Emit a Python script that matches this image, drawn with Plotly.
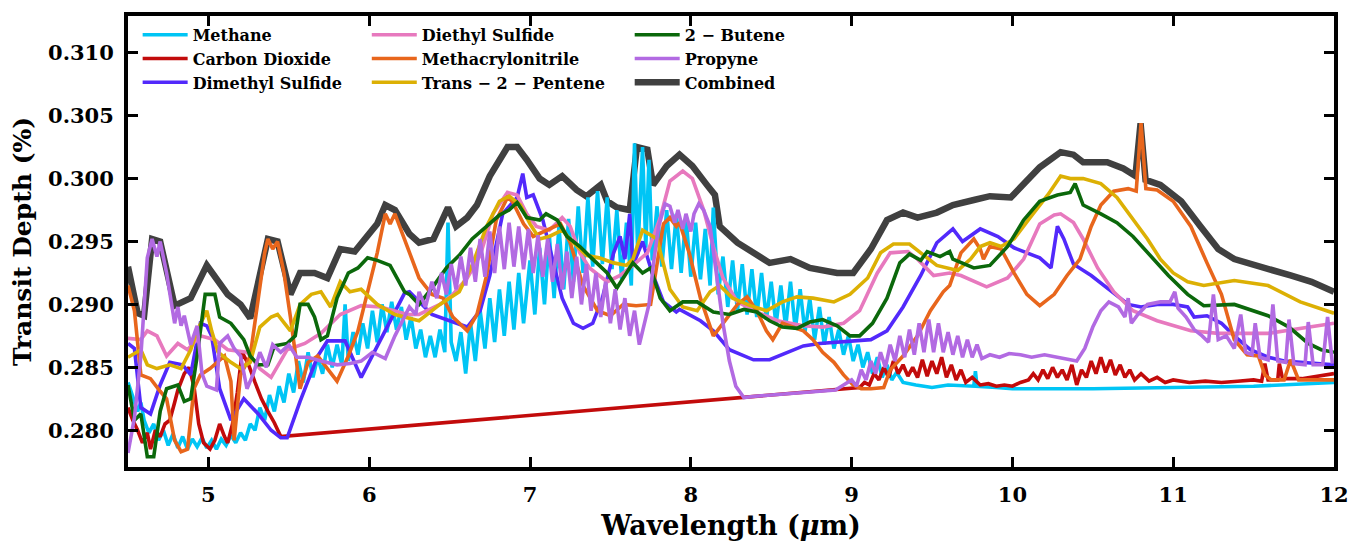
import plotly.graph_objects as go

# ---------------- data (wavelength in micron, transit depth in %) ----------------
combined_wl = [4.50, 4.56, 4.60, 4.65, 4.70, 4.79, 4.89, 4.99, 5.12, 5.20, 5.26, 5.37, 5.43, 5.51, 5.57,
               5.66, 5.74, 5.82, 5.91, 5.99, 6.05, 6.10, 6.16, 6.25, 6.31, 6.40, 6.49, 6.54, 6.61, 6.67,
               6.75, 6.86, 6.92, 6.98, 7.06, 7.12, 7.20, 7.29, 7.35, 7.44, 7.48, 7.54, 7.62, 7.665, 7.73,
               7.765, 7.85, 7.93, 8.01, 8.10, 8.15, 8.18, 8.29, 8.39, 8.49, 8.62, 8.74, 8.91, 9.01, 9.12,
               9.22, 9.32, 9.41, 9.53, 9.63, 9.76, 9.86, 9.99, 10.09, 10.17, 10.30, 10.38, 10.44, 10.59,
               10.69, 10.765, 10.797, 10.828, 10.92, 11.05, 11.17, 11.28, 11.38, 11.59, 11.73, 11.86, 12.00]
combined_td = [0.2930, 0.2893, 0.2891, 0.2952, 0.2950, 0.2899, 0.2905, 0.2931, 0.2908, 0.2900, 0.2889, 0.2952,
               0.2950, 0.2908, 0.2925, 0.2925, 0.2921, 0.2944, 0.2942, 0.2954, 0.2964, 0.2979, 0.2975, 0.2956,
               0.2949, 0.2952, 0.2977, 0.2962, 0.2969, 0.2979, 0.3002, 0.3025, 0.3025, 0.3015, 0.3000, 0.2995,
               0.3002, 0.2991, 0.2986, 0.2995, 0.2982, 0.2977, 0.2975, 0.3025, 0.3023, 0.2995, 0.3010, 0.3019,
               0.3010, 0.2995, 0.2987, 0.2962, 0.2949, 0.2941, 0.2933, 0.2936, 0.2929, 0.2925, 0.2925, 0.2944,
               0.2967, 0.2973, 0.2969, 0.2973, 0.2979, 0.2983, 0.2986, 0.2985, 0.2998, 0.3009, 0.3021, 0.3019,
               0.3013, 0.3013, 0.3008, 0.3002, 0.3044, 0.2999, 0.2995, 0.2982, 0.2962, 0.2944, 0.2936, 0.2929,
               0.2923, 0.2918, 0.2910]

methane_wl = [4.50, 4.53, 4.56, 4.58, 4.60, 4.63, 4.66, 4.69, 4.72, 4.75, 4.78, 4.81, 4.84, 4.87, 4.90,
              4.93, 4.96, 4.99, 5.02, 5.05, 5.08, 5.11, 5.14, 5.17, 5.20, 5.23, 5.26, 5.29, 5.32, 5.35,
              5.38, 5.41, 5.44, 5.47, 5.50, 5.53, 5.56, 5.59, 5.62, 5.65, 5.68, 5.71, 5.74, 5.77, 5.80,
              5.83, 5.85, 5.87, 5.90, 5.93, 5.96, 5.99, 6.02, 6.05, 6.08, 6.11, 6.14, 6.17, 6.20, 6.23,
              6.26, 6.29, 6.32, 6.35, 6.38, 6.41, 6.44, 6.47, 6.49, 6.51, 6.54, 6.57, 6.60, 6.63, 6.66,
              6.69, 6.72, 6.75, 6.78, 6.81, 6.84, 6.87, 6.90, 6.93, 6.96, 7.00, 7.03, 7.06, 7.09, 7.12,
              7.15, 7.18, 7.21, 7.24, 7.27, 7.30, 7.33, 7.36, 7.39, 7.42, 7.45, 7.48, 7.51, 7.54, 7.57,
              7.60, 7.63, 7.65, 7.67, 7.70, 7.72, 7.74, 7.76, 7.79, 7.82, 7.85, 7.88, 7.91, 7.94, 7.97,
              8.00, 8.03, 8.06, 8.09, 8.12, 8.14, 8.17, 8.20, 8.23, 8.26, 8.29, 8.32, 8.35, 8.38, 8.41,
              8.44, 8.47, 8.50, 8.53, 8.56, 8.59, 8.62, 8.65, 8.68, 8.71, 8.74, 8.77, 8.80, 8.83, 8.86,
              8.89, 8.92, 8.95, 8.98, 9.01, 9.04, 9.07, 9.10, 9.13, 9.16, 9.19, 9.22, 9.25, 9.28, 9.32,
              9.40, 9.50, 9.60, 9.70, 9.76, 9.77, 9.78, 9.90, 10.00, 10.50, 11.00, 11.50, 12.00]
methane_td = [0.2838, 0.2826, 0.2815, 0.2822, 0.2808, 0.2798, 0.2805, 0.2792, 0.2800, 0.2788, 0.2797, 0.2786,
              0.2795, 0.2785, 0.2793, 0.2787, 0.2794, 0.2786, 0.2792, 0.2785, 0.2793, 0.2788, 0.2796, 0.2790,
              0.2798, 0.2792, 0.2805, 0.2800, 0.2818, 0.2808, 0.2828, 0.2815, 0.2835, 0.2822, 0.2845, 0.2830,
              0.2855, 0.2838, 0.2862, 0.2842, 0.2858, 0.2845, 0.2868, 0.2850, 0.2868, 0.2852, 0.2900, 0.2855,
              0.2878, 0.2860, 0.2885, 0.2865, 0.2895, 0.2870, 0.2900, 0.2878, 0.2902, 0.2880, 0.2898, 0.2872,
              0.2890, 0.2865, 0.2880, 0.2858, 0.2875, 0.2858, 0.2880, 0.2862, 0.2965, 0.2870, 0.2855, 0.2878,
              0.2845, 0.2885, 0.2855, 0.2895, 0.2865, 0.2905, 0.2870, 0.2912, 0.2875, 0.2918, 0.2880, 0.2925,
              0.2885, 0.2935, 0.2892, 0.2945, 0.2900, 0.2955, 0.2905, 0.2962, 0.2912, 0.2968, 0.2918, 0.2978,
              0.2925, 0.2985, 0.2930, 0.2990, 0.2932, 0.2985, 0.2928, 0.2975, 0.2920, 0.2965, 0.2915, 0.3028,
              0.2940, 0.3025, 0.2945, 0.3015, 0.2935, 0.2978, 0.2930, 0.2975, 0.2928, 0.2972, 0.2925, 0.2970,
              0.2922, 0.2965, 0.2920, 0.2960, 0.2915, 0.2977, 0.2908, 0.2938, 0.2898, 0.2935, 0.2895, 0.2932,
              0.2892, 0.2928, 0.2890, 0.2925, 0.2888, 0.2918, 0.2884, 0.2915, 0.2882, 0.2918, 0.2880, 0.2912,
              0.2878, 0.2905, 0.2872, 0.2898, 0.2868, 0.2890, 0.2865, 0.2880, 0.2860, 0.2875, 0.2855, 0.2868,
              0.2850, 0.2862, 0.2845, 0.2858, 0.2842, 0.2852, 0.2840, 0.2846, 0.2838, 0.2836, 0.2834, 0.2836,
              0.2835, 0.2835, 0.2847, 0.2835, 0.2834, 0.2833, 0.2833, 0.2834, 0.2835, 0.2838]

co2_wl = [4.50, 4.53, 4.56, 4.59, 4.62, 4.64, 4.67, 4.70, 4.73, 4.76, 4.79, 4.81, 4.85, 4.88, 4.91, 4.94,
          4.97, 5.01, 5.04, 5.07, 5.10, 5.12, 5.15, 5.18, 5.21, 5.25, 5.29, 5.33, 5.37, 5.41, 5.45,
          9.05, 9.08, 9.11, 9.14, 9.17, 9.20, 9.23, 9.26, 9.29, 9.32, 9.35, 9.38, 9.41, 9.44, 9.47, 9.50,
          9.53, 9.56, 9.59, 9.62, 9.65, 9.68, 9.71, 9.75, 9.80, 9.85, 9.90, 9.95, 10.00, 10.05, 10.10,
          10.13, 10.16, 10.19, 10.22, 10.25, 10.28, 10.31, 10.34, 10.37, 10.40, 10.43, 10.46, 10.49,
          10.52, 10.55, 10.58, 10.61, 10.64, 10.67, 10.70, 10.73, 10.76, 10.80, 10.85, 10.90, 10.95,
          11.00, 11.10, 11.20, 11.30, 11.40, 11.50, 11.55, 11.57, 11.59, 11.65, 11.66, 11.68, 11.80,
          11.90, 12.00]
co2_td = [0.2818, 0.2808, 0.2800, 0.2790, 0.2798, 0.2785, 0.2800, 0.2795, 0.2805, 0.2808, 0.2822, 0.2832,
          0.2845, 0.2850, 0.2835, 0.2805, 0.2790, 0.2785, 0.2792, 0.2805, 0.2795, 0.2790, 0.2805, 0.2830,
          0.2862, 0.2852, 0.2838, 0.2825, 0.2815, 0.2806, 0.2795,
          0.2834, 0.2838, 0.2836, 0.2845, 0.2840, 0.2850, 0.2842, 0.2855, 0.2845, 0.2852, 0.2843, 0.2850,
          0.2842, 0.2856, 0.2843, 0.2855, 0.2845, 0.2858, 0.2842, 0.2852, 0.2840, 0.2848, 0.2838, 0.2842,
          0.2836, 0.2837, 0.2835, 0.2836, 0.2835, 0.2838, 0.2840, 0.2845, 0.2840, 0.2848, 0.2841, 0.2850,
          0.2842, 0.2848, 0.2840, 0.2852, 0.2836, 0.2848, 0.2842, 0.2855, 0.2845, 0.2858, 0.2846, 0.2856,
          0.2844, 0.2852, 0.2842, 0.2848, 0.2840, 0.2845, 0.2839, 0.2842, 0.2838, 0.2840, 0.2838, 0.2839,
          0.2838, 0.2839, 0.2840, 0.2839, 0.2853, 0.2840, 0.2840, 0.2853, 0.2841, 0.2841, 0.2843, 0.2845]

dms_wl = [4.50, 4.54, 4.58, 4.64, 4.70, 4.76, 4.84, 4.89, 4.95, 4.99, 5.02, 5.07, 5.14, 5.22, 5.31, 5.39,
          5.45, 5.49, 5.57, 5.68, 5.74, 5.85, 5.95, 6.07, 6.22, 6.25, 6.31, 6.39, 6.50, 6.61, 6.69, 6.75,
          6.83, 6.92, 6.955, 6.98, 7.02, 7.08, 7.14, 7.20, 7.27, 7.33, 7.39, 7.45, 7.52, 7.56, 7.59, 7.62,
          7.64, 7.70, 7.76, 7.83, 7.91, 7.93, 8.06, 8.14, 8.24, 8.39, 8.49, 8.60, 8.70, 8.80, 9.01, 9.12,
          9.22, 9.32, 9.43, 9.53, 9.63, 9.69, 9.80, 9.91, 10.01, 10.17, 10.24, 10.28, 10.32, 10.38, 10.49,
          10.59, 10.72, 10.80, 10.90, 11.00, 11.09, 11.13, 11.21, 11.30, 11.38, 11.48, 11.59, 11.69, 11.79,
          12.00]
dms_td = [0.2869, 0.2865, 0.2818, 0.2813, 0.2836, 0.2854, 0.2852, 0.2844, 0.2885, 0.2883, 0.2875, 0.2833,
          0.2808, 0.2825, 0.2813, 0.2800, 0.2794, 0.2794, 0.2823, 0.2859, 0.2871, 0.2871, 0.2842, 0.2872,
          0.2909, 0.2910, 0.2902, 0.2892, 0.2887, 0.2882, 0.2895, 0.2923, 0.2972, 0.2985, 0.3004, 0.2985,
          0.2987, 0.2967, 0.2936, 0.2905, 0.2885, 0.2881, 0.2885, 0.2905, 0.2941, 0.2954, 0.2936, 0.2972,
          0.2931, 0.2950, 0.2925, 0.2902, 0.2894, 0.2896, 0.2887, 0.2879, 0.2864, 0.2856, 0.2856, 0.2862,
          0.2867, 0.2869, 0.2871, 0.2872, 0.2879, 0.2898, 0.2923, 0.2949, 0.2960, 0.2950, 0.2960, 0.2954,
          0.2945, 0.2937, 0.2929, 0.2962, 0.2952, 0.2932, 0.2923, 0.2913, 0.2900, 0.2898, 0.2900, 0.2900,
          0.2898, 0.2890, 0.2891, 0.2885, 0.2875, 0.2864, 0.2858, 0.2855, 0.2854, 0.2852]

diethyl_wl = [4.50, 4.58, 4.62, 4.68, 4.74, 4.81, 4.87, 4.95, 5.04, 5.12, 5.24, 5.32, 5.39, 5.49, 5.60,
              5.70, 5.82, 5.95, 6.07, 6.16, 6.24, 6.31, 6.44, 6.52, 6.61, 6.69, 6.77, 6.86, 6.92, 6.98,
              7.04, 7.12, 7.20, 7.25, 7.31, 7.37, 7.48, 7.56, 7.64, 7.73, 7.81, 7.87, 7.95, 8.01, 8.08,
              8.14, 8.20, 8.29, 8.41, 8.54, 8.70, 8.82, 8.95, 9.05, 9.16, 9.24, 9.35, 9.41, 9.51, 9.61,
              9.68, 9.84, 9.97, 10.07, 10.17, 10.26, 10.30, 10.38, 10.44, 10.53, 10.63, 10.75, 10.90,
              11.11, 11.28, 11.59, 11.80, 12.00]
diethyl_td = [0.2873, 0.2872, 0.2879, 0.2875, 0.2859, 0.2869, 0.2864, 0.2875, 0.2872, 0.2864, 0.2862,
              0.2849, 0.2842, 0.2864, 0.2869, 0.2877, 0.2892, 0.2899, 0.2898, 0.2895, 0.2892, 0.2892,
              0.2900, 0.2908, 0.2921, 0.2939, 0.2972, 0.2989, 0.2987, 0.2972, 0.2962, 0.2959, 0.2969,
              0.2962, 0.2941, 0.2929, 0.2918, 0.2923, 0.2931, 0.2941, 0.2969, 0.2998, 0.3006, 0.3000,
              0.2975, 0.2946, 0.2921, 0.2902, 0.2894, 0.2887, 0.2883, 0.2882, 0.2885, 0.2895, 0.2925,
              0.2941, 0.2942, 0.2936, 0.2923, 0.2925, 0.2923, 0.2914, 0.2921, 0.2936, 0.2964, 0.2971,
              0.2972, 0.2965, 0.2952, 0.2929, 0.2910, 0.2895, 0.2887, 0.2879, 0.2877, 0.2877, 0.2881,
              0.2885]

methacrylo_wl = [4.50, 4.54, 4.58, 4.64, 4.70, 4.74, 4.79, 4.83, 4.87, 4.91, 4.95, 5.01, 5.10, 5.14, 5.16,
                 5.20, 5.26, 5.31, 5.35, 5.37, 5.40, 5.43, 5.47, 5.51, 5.55, 5.57, 5.62, 5.68, 5.74, 5.80,
                 5.87, 5.93, 5.99, 6.05, 6.10, 6.13, 6.16, 6.22, 6.25, 6.31, 6.39, 6.46, 6.52, 6.61, 6.67,
                 6.73, 6.79, 6.86, 6.89, 6.96, 7.02, 7.10, 7.19, 7.25, 7.33, 7.42, 7.50, 7.58, 7.66, 7.75,
                 7.83, 7.87, 7.91, 7.93, 7.99, 8.06, 8.14, 8.20, 8.29, 8.35, 8.41, 8.47, 8.51, 8.57, 8.64,
                 8.70, 8.76, 8.82, 8.89, 8.95, 9.01, 9.06, 9.12, 9.20, 9.24, 9.32, 9.41, 9.49, 9.57, 9.61,
                 9.68, 9.76, 9.80, 9.82, 9.86, 9.93, 10.01, 10.09, 10.17, 10.26, 10.34, 10.42, 10.49, 10.55,
                 10.63, 10.72, 10.77, 10.80, 10.83, 10.90, 11.00, 11.11, 11.21, 11.30, 11.38, 11.46, 11.53,
                 11.57, 11.61, 11.69, 11.73, 11.78, 12.00]
methacrylo_td = [0.2915, 0.2895, 0.2844, 0.2841, 0.2831, 0.2825, 0.2792, 0.2783, 0.2785, 0.2833, 0.2844,
                 0.2849, 0.2859, 0.2839, 0.2792, 0.2844, 0.2859, 0.2902, 0.2941, 0.2952, 0.2944, 0.2950,
                 0.2925, 0.2890, 0.2854, 0.2833, 0.2854, 0.2859, 0.2849, 0.2839, 0.2859, 0.2879, 0.2910,
                 0.2941, 0.2972, 0.2964, 0.2972, 0.2952, 0.2941, 0.2921, 0.2908, 0.2905, 0.2890, 0.2879,
                 0.2892, 0.2923, 0.2967, 0.2985, 0.2982, 0.2964, 0.2954, 0.2959, 0.2964, 0.2949, 0.2915,
                 0.2895, 0.2891, 0.2900, 0.2899, 0.2900, 0.2964, 0.2969, 0.2962, 0.2965, 0.2941, 0.2905,
                 0.2875, 0.2885, 0.2900, 0.2906, 0.2895, 0.2879, 0.2872, 0.2885, 0.2882, 0.2879, 0.2872,
                 0.2862, 0.2854, 0.2844, 0.2836, 0.2833, 0.2833, 0.2834, 0.2848, 0.2859, 0.2875, 0.2895,
                 0.2910, 0.2915, 0.2941, 0.2952, 0.2944, 0.2936, 0.2946, 0.2944, 0.2925, 0.2908, 0.2899,
                 0.2908, 0.2923, 0.2936, 0.2962, 0.2979, 0.2990, 0.2992, 0.2990, 0.3044, 0.2992, 0.2991,
                 0.2982, 0.2962, 0.2933, 0.2908, 0.2872, 0.2860, 0.2859, 0.2844, 0.2840, 0.2840, 0.2856,
                 0.2840, 0.2840]

pentene_wl = [4.50, 4.58, 4.62, 4.68, 4.76, 4.83, 4.89, 4.93, 4.99, 5.02, 5.06, 5.14, 5.20, 5.26, 5.32,
              5.39, 5.43, 5.51, 5.57, 5.64, 5.70, 5.76, 5.82, 5.88, 5.95, 6.05, 6.16, 6.24, 6.31, 6.44,
              6.56, 6.64, 6.73, 6.81, 6.87, 6.94, 7.00, 7.06, 7.12, 7.20, 7.27, 7.35, 7.43, 7.52, 7.60,
              7.64, 7.70, 7.79, 7.87, 7.95, 8.04, 8.12, 8.18, 8.26, 8.37, 8.47, 8.57, 8.66, 8.76, 8.89,
              8.99, 9.10, 9.18, 9.26, 9.36, 9.45, 9.53, 9.66, 9.74, 9.80, 9.86, 9.93, 10.01, 10.11, 10.22,
              10.30, 10.36, 10.44, 10.55, 10.65, 10.75, 10.84, 10.92, 11.00, 11.09, 11.19, 11.38, 11.59,
              11.79, 12.00]
pentene_td = [0.2858, 0.2864, 0.2852, 0.2849, 0.2852, 0.2849, 0.2864, 0.2879, 0.2895, 0.2879, 0.2862,
              0.2854, 0.2849, 0.2854, 0.2882, 0.2890, 0.2892, 0.2879, 0.2900, 0.2908, 0.2910, 0.2898,
              0.2918, 0.2910, 0.2912, 0.2900, 0.2892, 0.2889, 0.2887, 0.2900, 0.2910, 0.2931, 0.2962,
              0.2982, 0.2986, 0.2979, 0.2964, 0.2952, 0.2954, 0.2959, 0.2949, 0.2939, 0.2937, 0.2933,
              0.2931, 0.2936, 0.2959, 0.2952, 0.2912, 0.2898, 0.2895, 0.2910, 0.2915, 0.2905, 0.2899,
              0.2895, 0.2902, 0.2906, 0.2905, 0.2902, 0.2908, 0.2921, 0.2941, 0.2948, 0.2948, 0.2939,
              0.2931, 0.2927, 0.2936, 0.2946, 0.2949, 0.2946, 0.2952, 0.2969, 0.2987, 0.3002, 0.3000,
              0.3000, 0.2996, 0.2985, 0.2967, 0.2952, 0.2936, 0.2925, 0.2918, 0.2915, 0.2919, 0.2915,
              0.2902, 0.2893]

butene_wl = [4.50, 4.54, 4.58, 4.62, 4.66, 4.70, 4.74, 4.81, 4.85, 4.89, 4.93, 4.98, 5.04, 5.07, 5.14,
             5.18, 5.22, 5.26, 5.31, 5.37, 5.41, 5.49, 5.54, 5.57, 5.62, 5.66, 5.70, 5.74, 5.80, 5.87,
             5.93, 5.99, 6.05, 6.13, 6.22, 6.25, 6.31, 6.39, 6.48, 6.56, 6.64, 6.73, 6.81, 6.87, 6.92,
             6.98, 7.06, 7.10, 7.17, 7.23, 7.31, 7.39, 7.48, 7.54, 7.60, 7.64, 7.70, 7.75, 7.81, 7.87,
             7.95, 8.04, 8.14, 8.24, 8.33, 8.41, 8.49, 8.57, 8.66, 8.74, 8.82, 8.91, 8.99, 9.05, 9.13,
             9.22, 9.30, 9.36, 9.43, 9.47, 9.55, 9.61, 9.63, 9.76, 9.86, 9.97, 10.07, 10.17, 10.28, 10.36,
             10.39, 10.44, 10.55, 10.65, 10.75, 10.86, 10.97, 11.09, 11.19, 11.38, 11.59, 11.72, 11.84,
             11.92, 12.00]
butene_td = [0.2836, 0.2808, 0.2813, 0.2779, 0.2779, 0.2815, 0.2833, 0.2836, 0.2823, 0.2825, 0.2859,
             0.2908, 0.2908, 0.2890, 0.2885, 0.2879, 0.2872, 0.2859, 0.2852, 0.2852, 0.2867, 0.2869,
             0.2875, 0.2900, 0.2900, 0.2890, 0.2872, 0.2875, 0.2905, 0.2925, 0.2929, 0.2937, 0.2935,
             0.2931, 0.2910, 0.2908, 0.2900, 0.2913, 0.2929, 0.2939, 0.2952, 0.2962, 0.2971, 0.2975,
             0.2981, 0.2969, 0.2967, 0.2972, 0.2967, 0.2954, 0.2946, 0.2936, 0.2925, 0.2913, 0.2925,
             0.2933, 0.2925, 0.2929, 0.2905, 0.2895, 0.2902, 0.2902, 0.2894, 0.2892, 0.2896, 0.2894,
             0.2887, 0.2882, 0.2881, 0.2886, 0.2888, 0.2883, 0.2875, 0.2875, 0.2885, 0.2905, 0.2933,
             0.2940, 0.2935, 0.2942, 0.2938, 0.2942, 0.2936, 0.2929, 0.2931, 0.2946, 0.2967, 0.2982,
             0.2987, 0.2989, 0.2996, 0.2979, 0.2972, 0.2965, 0.2954, 0.2939, 0.2923, 0.2908, 0.2899,
             0.2900, 0.2891, 0.2882, 0.2869, 0.2864, 0.2862]

propyne_wl = [4.50, 4.54, 4.58, 4.62, 4.65, 4.68, 4.70, 4.74, 4.79, 4.81, 4.83, 4.85, 4.89, 4.93, 4.96,
              4.99, 5.05, 5.07, 5.12, 5.16, 5.20, 5.24, 5.28, 5.32, 5.36, 5.40, 5.45, 5.50, 5.55, 5.62,
              5.70, 5.80, 5.88, 5.95, 6.02, 6.10, 6.16, 6.22, 6.25, 6.29, 6.31, 6.35, 6.39, 6.42, 6.45,
              6.48, 6.51, 6.54, 6.57, 6.60, 6.63, 6.66, 6.69, 6.72, 6.75, 6.78, 6.81, 6.84, 6.87, 6.90,
              6.93, 6.96, 6.99, 7.02, 7.05, 7.08, 7.11, 7.14, 7.17, 7.20, 7.23, 7.26, 7.29, 7.32, 7.35,
              7.38, 7.41, 7.44, 7.47, 7.50, 7.53, 7.56, 7.59, 7.62, 7.65, 7.68, 7.71, 7.74, 7.77, 7.80,
              7.84, 7.87, 7.90, 7.92, 7.95, 7.97, 8.00, 8.02, 8.05, 8.08, 8.12, 8.16, 8.20, 8.24, 8.28,
              8.33, 8.40, 8.60, 8.80, 8.90, 8.95, 9.00, 9.03, 9.06, 9.09, 9.12, 9.15, 9.18, 9.21, 9.24,
              9.27, 9.30, 9.33, 9.36, 9.39, 9.42, 9.45, 9.48, 9.51, 9.54, 9.57, 9.60, 9.63, 9.66, 9.69,
              9.72, 9.75, 9.78, 9.81, 9.86, 9.92, 9.98, 10.05, 10.12, 10.20, 10.28, 10.35, 10.40, 10.45,
              10.50, 10.55, 10.60, 10.66, 10.70, 10.72, 10.74, 10.78, 10.84, 10.92, 10.98, 11.01, 11.03,
              11.08, 11.13, 11.18, 11.22, 11.25, 11.28, 11.33, 11.38, 11.42, 11.45, 11.49, 11.51, 11.54,
              11.59, 11.62, 11.65, 11.70, 11.72, 11.75, 11.82, 11.84, 11.87, 11.93, 11.96, 11.99]
propyne_td = [0.2782, 0.2810, 0.2859, 0.2937, 0.2952, 0.2938, 0.2950, 0.2925, 0.2885, 0.2898, 0.2883,
              0.2891, 0.2868, 0.2883, 0.2845, 0.2835, 0.2832, 0.2869, 0.2875, 0.2865, 0.2859, 0.2833,
              0.2845, 0.2862, 0.2850, 0.2868, 0.2862, 0.2868, 0.2858, 0.2858, 0.2855, 0.2852, 0.2853,
              0.2855, 0.2862, 0.2857, 0.2875, 0.2890, 0.2898, 0.2892, 0.2910, 0.2898, 0.2918, 0.2905,
              0.2925, 0.2908, 0.2932, 0.2912, 0.2938, 0.2915, 0.2945, 0.2918, 0.2952, 0.2922, 0.2958,
              0.2925, 0.2962, 0.2928, 0.2965, 0.2930, 0.2962, 0.2928, 0.2960, 0.2925, 0.2955, 0.2922,
              0.2952, 0.2918, 0.2948, 0.2912, 0.2942, 0.2905, 0.2938, 0.2900, 0.2932, 0.2895, 0.2925,
              0.2890, 0.2918, 0.2885, 0.2912, 0.2880, 0.2905, 0.2875, 0.2895, 0.2868, 0.2885, 0.2900,
              0.2935, 0.2962, 0.2980, 0.2978, 0.2965, 0.2975, 0.2960, 0.2972, 0.2958, 0.2972, 0.2980,
              0.2975, 0.2962, 0.2925, 0.2885, 0.2855, 0.2835, 0.2826, 0.2827, 0.2829, 0.2831, 0.2832,
              0.2836, 0.2840, 0.2835, 0.2848, 0.2840, 0.2855, 0.2845, 0.2862, 0.2850, 0.2868, 0.2855,
              0.2875, 0.2858, 0.2880, 0.2860, 0.2885, 0.2862, 0.2888, 0.2862, 0.2885, 0.2862, 0.2878,
              0.2860, 0.2875, 0.2858, 0.2872, 0.2858, 0.2868, 0.2857, 0.2860, 0.2858, 0.2861, 0.2860,
              0.2858, 0.2860, 0.2858, 0.2856, 0.2855, 0.2865, 0.2882, 0.2895, 0.2902, 0.2898, 0.2890,
              0.2905, 0.2885, 0.2892, 0.2900, 0.2902, 0.2902, 0.2910, 0.2897, 0.2890, 0.2880, 0.2875,
              0.2870, 0.2908, 0.2872, 0.2875, 0.2865, 0.2892, 0.2862, 0.2860, 0.2885, 0.2858, 0.2856,
              0.2900, 0.2855, 0.2854, 0.2888, 0.2853, 0.2852, 0.2886, 0.2852, 0.2852, 0.2890, 0.2853]

series_names = ["Combined", "Methane", "Carbon Dioxide", "Dimethyl Sulfide", "Diethyl Sulfide",
                "Methacrylonitrile", "Trans − 2 − Pentene", "2 − Butene", "Propyne"]
series_data = [(combined_wl, combined_td), (methane_wl, methane_td), (co2_wl, co2_td), (dms_wl, dms_td),
               (diethyl_wl, diethyl_td), (methacrylo_wl, methacrylo_td), (pentene_wl, pentene_td),
               (butene_wl, butene_td), (propyne_wl, propyne_td)]
series_colors = ["#404040", "#00c5f5", "#c20b0b", "#5229fb", "#e779be", "#e8661c", "#dcb004",
                 "#0b680b", "#b26ae2"]
series_widths = [6.5, 3.6, 3.6, 3.6, 3.6, 3.6, 3.6, 3.6, 3.6]
series_legend = ["legend3", "legend", "legend", "legend", "legend2", "legend2", "legend2", "legend3", "legend3"]
series_rank = [3, 1, 2, 3, 1, 2, 3, 1, 2]

x_ticks = [5, 6, 7, 8, 9, 10, 11, 12]
y_ticks = [0.280, 0.285, 0.290, 0.295, 0.300, 0.305, 0.310]

FONT = "DejaVu Serif"

fig = go.Figure()
for name, (wl, td), col, w, lg, rk in zip(series_names, series_data, series_colors, series_widths,
                                          series_legend, series_rank):
    fig.add_trace(go.Scatter(x=wl, y=td, mode="lines", name=name,
                             line=dict(color=col, width=w), legend=lg, legendrank=rk))

axis_common = dict(showgrid=False, zeroline=False, ticks="inside", ticklen=10, tickwidth=3,
                   tickcolor="black", showline=True, linewidth=4, linecolor="black",
                   mirror="allticks", tickfont=dict(family=FONT, size=21, color="black", weight="bold"))

fig.update_xaxes(range=[4.5, 12], tickvals=x_ticks, ticklabelstandoff=6,
                 title=dict(text="Wavelength (<i>μ</i>m)", font=dict(family=FONT, size=27, color="black", weight="bold"), standoff=11),
                 **axis_common)
fig.update_yaxes(range=[0.27708, 0.31292], tickvals=y_ticks, tickformat=".3f", ticklabelstandoff=6,
                 title=dict(text="Transit Depth (%)", font=dict(family=FONT, size=25, color="black", weight="bold"), standoff=10),
                 **axis_common)

leg_common = dict(xanchor="left", yanchor="top", y=0.996, bgcolor="rgba(0,0,0,0)", borderwidth=0,
                  tracegroupgap=0, itemwidth=45,
                  font=dict(family=FONT, size=16, color="black", weight="bold"))
fig.update_layout(
    width=1366, height=549,
    margin=dict(l=128, r=32, t=12, b=71),
    plot_bgcolor="white", paper_bgcolor="white",
    font=dict(family=FONT, color="black", weight="bold"),
    legend=dict(x=0.008, **leg_common),
    legend2=dict(x=0.198, **leg_common),
    legend3=dict(x=0.416, **leg_common),
)

fig.write_html("out.html")
